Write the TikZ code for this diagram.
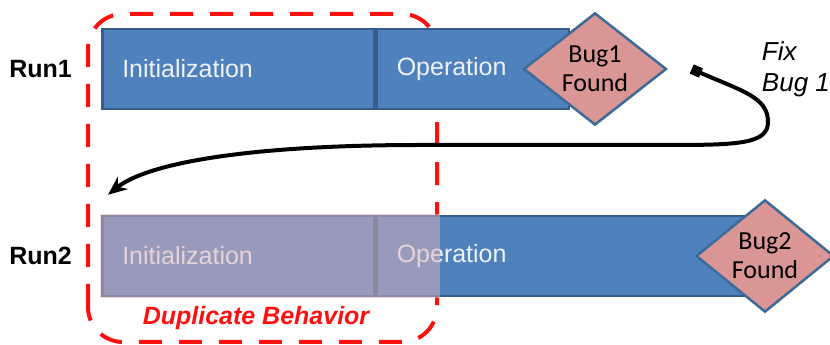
\documentclass[tikz,border=0pt]{standalone}
\usepackage{fontspec}
\setmainfont{Liberation Sans}
\newfontfamily\bugfont{Carlito}
\usepackage{tikz}
\usetikzlibrary{arrows.meta, positioning, shapes.geometric}
\definecolor{barblue}{HTML}{4F81BD}
\definecolor{barline}{HTML}{355C8A}
\definecolor{bartext}{HTML}{EEF2F8}
\definecolor{bugpink}{HTML}{D99694}
\definecolor{bugline}{HTML}{3D6A98}
\definecolor{dupred}{HTML}{FF1010}
\definecolor{dupshade}{RGB}{225,180,187}

\begin{document}
\begin{tikzpicture}[
    x=1pt, y=1pt,
    seg/.style={rectangle, draw=barline, line width=2.5pt, fill=barblue, minimum width=#1,
      minimum height=80pt, inner xsep=20pt, align=left, text=bartext,
      font=\fontsize{25}{30}\selectfont},
    bug/.style={diamond, draw=bugline, line width=2.5pt, fill=bugpink, minimum width=#1,
      minimum height=112pt, inner sep=0pt, align=center, font=\bugfont\fontsize{26}{29}\selectfont},
    runlabel/.style={inner sep=0pt, font=\bfseries\fontsize{25}{28}\selectfont},
    dupbox/.style={draw=dupred, line width=4pt, dash pattern=on 23pt off 17pt, rounded corners=35pt},
    fixarrow/.style={draw=black, line width=4pt, {Square[length=10pt,width=10pt]}-{Stealth[length=19pt,width=16pt]}},
]
\useasboundingbox (0,0) rectangle (830,345);

% Repeated part, behind the bars
\draw[dupbox] (88,3) rectangle (437,331);

% Run 1
\node[seg=272pt, text width=232pt, anchor=west] (init1) at (101,276) {Initialization};
\node[seg=192pt, text width=152pt, right=0pt of init1] (op1) {Operation};
\node[bug=143pt] (bug1) at ([xshift=25pt]op1.east) {Bug1\\Found};
\node[runlabel, left=29pt of init1] (run1) {Run1};

% Run 2
\node[seg=272pt, text width=232pt, anchor=west] (init2) at (101,89) {Initialization};
\node[seg=367pt, text width=327pt, right=0pt of init2] (op2) {Operation};
\node[bug=138pt] (bug2) at ([xshift=20pt]op2.east) {Bug2\\Found};
\node[runlabel, left=29pt of init2] (run2) {Run2};

% shade over what run 2 repeats
\fill[dupshade, opacity=0.5] ([shift={(-1pt,-1pt)}]init2.south west) rectangle ([shift={(64pt,1pt)}]op2.north west);
\node[text=dupred, font=\bfseries\itshape\fontsize{25}{30}\selectfont] (duplabel) at (256,27) {Duplicate Behavior};

% Fix and rerun
\node[align=left, inner sep=0pt, font=\itshape\fontsize{26}{31}\selectfont, right=94pt of bug1.east] (fixlabel) {Fix\\Bug 1};
\coordinate (fixtail) at ([xshift=24pt]bug1.east);
\coordinate (fixhead) at ([shift={(7pt,20pt)}]init2.north west);
\draw[fixarrow] (fixtail) .. controls +(50pt,-22pt) and +(0pt,25pt) .. (768,223)
  .. controls +(0pt,-22pt) and +(70pt,0pt) .. (668,200) -- (420,200)
  .. controls +(-170pt,0pt) and +(40pt,32pt) .. (fixhead);

\end{tikzpicture}
\end{document}
